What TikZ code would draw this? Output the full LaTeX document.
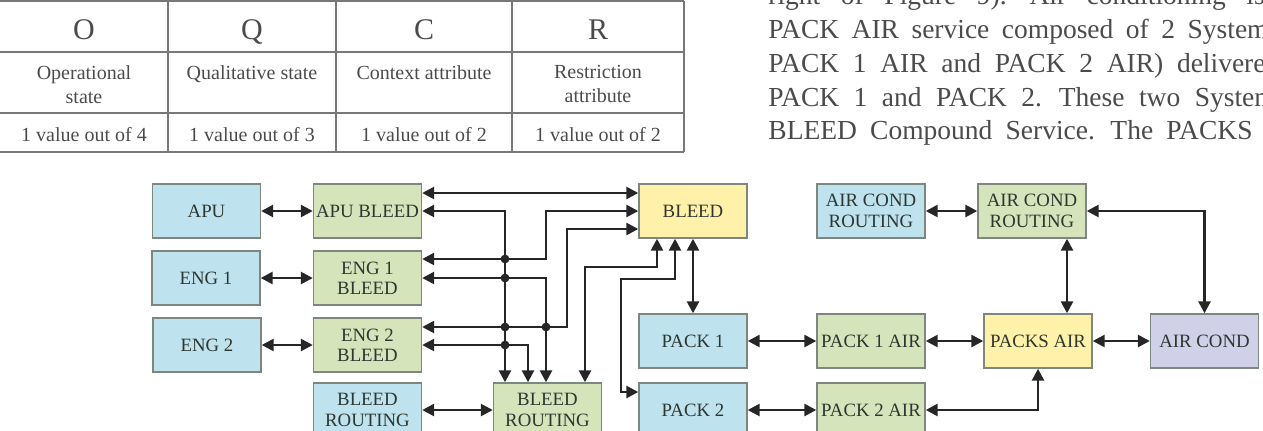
\documentclass[tikz,border=0pt]{standalone}
\usepackage{fontspec}
\setmainfont{Liberation Serif}
\usetikzlibrary{arrows.meta,calc}
\definecolor{skyfill}{RGB}{190,226,238}
\definecolor{leaffill}{RGB}{214,228,188}
\definecolor{sunfill}{RGB}{255,241,170}
\definecolor{lilacfill}{RGB}{208,208,232}
\definecolor{edge}{RGB}{125,135,125}
\definecolor{ink}{RGB}{45,55,48}
\definecolor{wirecol}{RGB}{38,38,38}
\definecolor{rulecol}{RGB}{120,120,120}
\definecolor{print}{RGB}{75,75,75}
\tikzset{
  >={Triangle[length=6pt,width=6pt]},
  box/.style={draw=edge,line width=0.7pt,fill=#1,minimum width=54pt,minimum height=27pt,
    inner sep=0pt,align=center,text=ink,font=\fontsize{9.4}{10.2}\selectfont},
  box/.default=skyfill,
  wire/.style={<->,line width=1.3pt,draw=wirecol},
  grid line/.style={draw=rulecol,line width=1.4pt},
  head/.style={text=print,inner sep=0pt,font=\fontsize{15}{18}\selectfont},
  cell/.style={text=print,inner sep=0pt,align=center,font=\fontsize{10}{12}\selectfont},
  prose/.style={text=print,inner sep=0pt,font=\fontsize{13.75}{16.85}\selectfont},
}

\begin{document}
\begin{tikzpicture}[x=0.5pt,y=-0.5pt]
    \useasboundingbox (0,0) rectangle (1263,430);
    \clip (0,0) rectangle (1263,430);
    % table
    \foreach \y in {1,52,113,152} \draw[grid line] (-5,\y) -- (684,\y);
    \foreach \x in {168,336,512,684} \draw[grid line] (\x,1) -- (\x,152);
    \foreach \c/\x [count=\i] in {O/84,Q/252,C/424,R/598}
      \node[head,anchor=base] (hd\i) at (\x,39) {\c};
    \foreach \t/\x [count=\i] in {Operational\\state/84,Qualitative state/252,Context attribute/424,Restriction\\attribute/598}
      \node[cell,anchor=north] (kind\i) at (\x,65) {\t};
    \foreach \n/\x [count=\i] in {4/84,3/252,2/424,2/598}
      \node[cell,anchor=base] (val\i) at (\x,141.5) {1 value out of \n};
    % running text
    \foreach \t/\y/\s [count=\i] in {{right of Figure 9). Air conditioning is}/4.3/10.3,
      {PACK AIR service composed of 2 Systems}/38/6.25,
      {PACK 1 AIR and PACK 2 AIR) delivered}/72/6.85,
      {PACK 1 and PACK 2. These two Systems}/106/7.25,
      {BLEED Compound Service. The PACKS}/139/6.6}
      \node[prose,anchor=base west] (txt\i) at (768,\y) {\spaceskip=\s pt\relax\t};
    % services
    \node[box] (apu) at (206.5,211) {APU};
    \node[box] (eng1) at (206,278) {ENG 1};
    \node[box] (eng2) at (207,345) {ENG 2};
    \node[box=leaffill] (apub) at (367.5,211) {APU BLEED};
    \node[box=leaffill] (e1b) at (367.5,278) {ENG 1\\BLEED};
    \node[box=leaffill] (e2b) at (367.5,345) {ENG 2\\BLEED};
    \node[box] (brb) at (367.5,410) {BLEED\\ROUTING};
    \node[box=leaffill] (brg) at (547.5,410) {BLEED\\ROUTING};
    \node[box=sunfill] (bleed) at (693,211) {BLEED};
    \node[box] (pack1) at (693,341) {PACK 1};
    \node[box] (pack2) at (693,410) {PACK 2};
    \node[box] (acrb) at (871,211) {AIR COND\\ROUTING};
    \node[box=leaffill] (acrg) at (1032,211) {AIR COND\\ROUTING};
    \node[box=leaffill] (p1a) at (871,341) {PACK 1 AIR};
    \node[box=leaffill] (p2a) at (871,410) {PACK 2 AIR};
    \node[box=sunfill] (pa) at (1038,341) {PACKS AIR};
    \node[box=lilacfill] (ac) at (1204.5,341) {AIR COND};
    % routing tracks
    \coordinate (t1) at (505,0);
    \coordinate (t2) at (528,0);
    \coordinate (t3) at (546,0);
    \coordinate (t4) at (567,0);
    \coordinate (t5) at (585,0);
    \coordinate (t6) at (621,0);
    \coordinate (t7) at (1067,0);
    \coordinate (k1) at (657,267);
    \coordinate (k2) at (675,279);
    % links
    \foreach \a/\b in {apu/apub,eng1/e1b,eng2/e2b,brb/brg,bleed/pack1,pack1/p1a,p1a/pa,pa/ac,pack2/p2a,acrb/acrg}
      \draw[wire] (\a) -- (\b);
    \draw[wire] (apub.east |- 0,193) -- (bleed.west |- 0,193);
    \draw[wire] (apub.east) -| (t1 |- brg.north);
    \draw[wire] (e1b.east |- 0,259) -| (t3 |- bleed.west) -- (bleed.west);
    \draw[wire] (e1b.east) -| (t3 |- brg.north);
    \draw[wire] (e2b.east |- 0,327) -| (t4 |- 0,229) -- (bleed.west |- 0,229);
    \draw[wire] (e2b.east) -| (t2 |- brg.north);
    \draw[wire] (t5 |- brg.north) |- (k1) -- (k1 |- bleed.south);
    \draw[wire] (pack2.west |- 0,392) -| (t6 |- k2) -- (k2) -- (k2 |- bleed.south);
    \draw[wire] (acrg.east) -| (ac.north);
    \draw[wire] (acrg.south -| t7) -- (pa.north -| t7);
    \draw[wire] (p2a.east) -| (pa.south);
    % line hops
    \foreach \p in {(505,259),(505,278),(505,327),(546,327),(505,345)}
      \fill[wirecol] \p circle (2.2pt);
\end{tikzpicture}
\end{document}
